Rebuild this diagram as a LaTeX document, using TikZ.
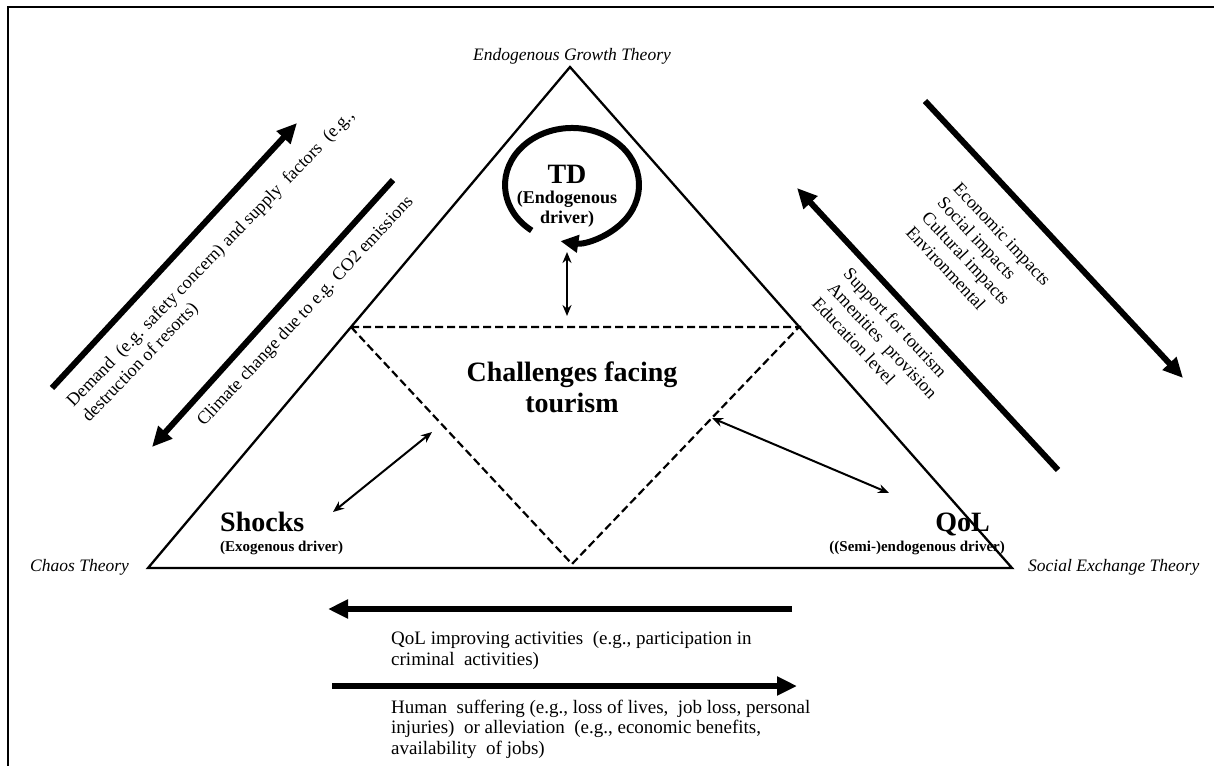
\documentclass[tikz,border=0pt]{standalone}
\usepackage{fontspec}
\setmainfont{Liberation Serif}
\usetikzlibrary{arrows.meta}
\begin{document}
\begin{tikzpicture}[x=1pt,y=-1pt,
  frameline/.style={line width=2pt},
  triline/.style={line width=2.3pt, line join=miter},
  dashline/.style={line width=2.2pt, dash pattern=on 8pt off 4pt},
  bigarrow/.style={line width=6pt, -{Triangle[length=20pt,width=18pt]}},
  thinarrow/.style={line width=2pt, {Stealth[length=11pt,width=9pt]}-{Stealth[length=11pt,width=9pt]}},
  theory/.style={font=\fontsize{17.5}{19}\selectfont\itshape, inner sep=0pt},
  bigbold/.style={font=\fontsize{28}{31}\selectfont\bfseries, inner sep=0pt},
  subbold/.style={font=\fontsize{15}{17}\selectfont\bfseries, inner sep=0pt},
  rottext/.style={font=\fontsize{18}{21.5}\selectfont, inner sep=0pt, align=left},
  bottext/.style={font=\fontsize{19}{20.5}\selectfont, inner sep=0pt, align=left}
]
\useasboundingbox (0,0) rectangle (1214,765);
% frame
\draw[frameline] (8,766) -- (8,7) -- (1215,7);

% triangle
\coordinate (A) at (570,67);
\coordinate (B) at (148,568);
\coordinate (C) at (1012,568);
\draw[triline] (A) -- (B) -- (C) -- cycle;

% dashed inner triangle
\coordinate (DL) at (351,327);
\coordinate (DR) at (799,327);
\coordinate (DB) at (572,564);
\draw[dashline] (DL) -- (DR) -- (DB) -- cycle;

% theory labels
\node[theory, anchor=base] (egt) at (572,61) {Endogenous Growth Theory};
\node[theory, anchor=base west] (chaos) at (30,571) {Chaos Theory};
\node[theory, anchor=base west] (set) at (1028,571) {Social Exchange Theory};

% TD
\node[bigbold, anchor=base] (td) at (567,183) {TD};
\node[font=\fontsize{18}{20}\selectfont\bfseries, inner sep=0pt, align=center, anchor=base] (tdsub) at (567,223) {(Endogenous\\driver)};
\coordinate (tdstart) at (531.7,230.5);
\draw[line width=6pt, -{Triangle[length=18pt,width=17pt]}] (tdstart) arc[start angle=-233, end angle=100, x radius=67, y radius=57];

\coordinate (tdlow) at (567,252);
\coordinate (tdhigh) at (567,316);
\draw[thinarrow] (tdlow) -- (tdhigh);

% challenges
\node[bigbold, align=center, anchor=base] (ch) at (572,412) {Challenges facing\\tourism};

% shocks and QoL
\node[bigbold, anchor=base west] (shocks) at (220,531) {Shocks};
\node[subbold, anchor=base west] (shocksub) at (220,551) {(Exogenous driver)};
\node[bigbold, anchor=base east] (qol) at (990,531) {QoL};
\node[subbold, anchor=base east] (qolsub) at (1005,551) {((Semi-)endogenous driver)};

\coordinate (la1) at (432,432);
\coordinate (la2) at (333,512);
\draw[thinarrow] (la1) -- (la2);
\coordinate (ra1) at (712,418);
\coordinate (ra2) at (889,493);
\draw[thinarrow] (ra1) -- (ra2);

% left thick arrows and texts
\coordinate (dm1) at (52,388);
\coordinate (dm2) at (297,123);
\draw[bigarrow] (dm1) -- (dm2);
\coordinate (cc1) at (393,180);
\coordinate (cc2) at (152,447);
\draw[bigarrow] (cc1) -- (cc2);
\node[rottext, rotate=46, anchor=base west] (demand) at (89,423) {Demand\ \ (e.g. safety concern) and supply\ \ factors\ \ (e.g.,\\destruction of resorts)};
\node[rottext, rotate=47, anchor=base west] (climate) at (204,427) {Climate change due to e.g. CO2 emissions};

% right thick arrows and texts
\coordinate (ei1) at (925,101);
\coordinate (ei2) at (1183,378);
\draw[bigarrow] (ei1) -- (ei2);
\coordinate (sp1) at (1058,470);
\coordinate (sp2) at (797,188);
\draw[bigarrow] (sp1) -- (sp2);
\node[rottext, rotate=-47, anchor=base west] (impacts) at (905,233) {Economic impacts\\Social impacts\\Cultural impacts\\Environmental};
\node[rottext, rotate=-47, anchor=base west] (support) at (811,304) {Support for tourism\\Amenities\ \ provision\\Education level};

% bottom arrows and texts
\coordinate (b1t) at (792,609);
\coordinate (b1h) at (328,609);
\draw[bigarrow] (b1t) -- (b1h);
\coordinate (b2t) at (332,686);
\coordinate (b2h) at (797,686);
\draw[bigarrow] (b2t) -- (b2h);
\node[bottext, anchor=base west] (qolact) at (391,665) {QoL improving activities\ \ (e.g., participation in\\criminal\ \ activities)};
\node[bottext, anchor=base west] (human) at (391,754) {Human\ \ suffering (e.g., loss of lives,\ \ job loss, personal\\injuries)\ \ or alleviation\ \ (e.g., economic benefits,\\availability\ \ of jobs)};
\end{tikzpicture}
\end{document}
